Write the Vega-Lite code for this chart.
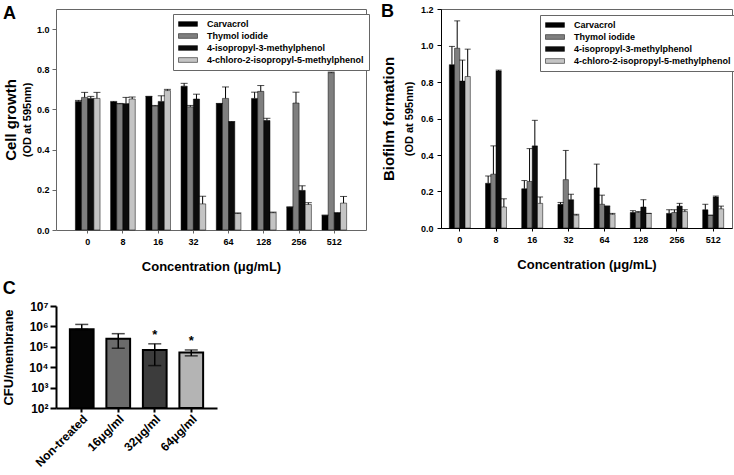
{
  "$schema": "https://vega.github.io/schema/vega-lite/v6.json",
  "padding": {"left": 2, "top": 2, "right": 0, "bottom": 0},
  "config": {
    "font": "Liberation Sans",
    "view": {"stroke": null},
    "axis": {"labelColor": "#000", "titleColor": "#000", "labelFontWeight": "bold", "titleFontWeight": "bold", "grid": false}
  },
  "datasets": {
    "a": [
      {"conc": "0", "compound": "Carvacrol", "value": 0.64, "upper": 0.645},
      {"conc": "0", "compound": "Thymol iodide", "value": 0.66, "upper": 0.685},
      {"conc": "0", "compound": "4-isopropyl-3-methylphenol", "value": 0.655, "upper": 0.665},
      {"conc": "0", "compound": "4-chloro-2-isopropyl-5-methylphenol", "value": 0.655, "upper": 0.685},
      {"conc": "8", "compound": "Carvacrol", "value": 0.637, "upper": 0.64},
      {"conc": "8", "compound": "Thymol iodide", "value": 0.628, "upper": 0.63},
      {"conc": "8", "compound": "4-isopropyl-3-methylphenol", "value": 0.629, "upper": 0.66},
      {"conc": "8", "compound": "4-chloro-2-isopropyl-5-methylphenol", "value": 0.652, "upper": 0.662},
      {"conc": "16", "compound": "Carvacrol", "value": 0.665, "upper": 0.665},
      {"conc": "16", "compound": "Thymol iodide", "value": 0.617, "upper": 0.62},
      {"conc": "16", "compound": "4-isopropyl-3-methylphenol", "value": 0.64, "upper": 0.668},
      {"conc": "16", "compound": "4-chloro-2-isopropyl-5-methylphenol", "value": 0.694, "upper": 0.70},
      {"conc": "32", "compound": "Carvacrol", "value": 0.716, "upper": 0.73},
      {"conc": "32", "compound": "Thymol iodide", "value": 0.613, "upper": 0.62},
      {"conc": "32", "compound": "4-isopropyl-3-methylphenol", "value": 0.652, "upper": 0.676},
      {"conc": "32", "compound": "4-chloro-2-isopropyl-5-methylphenol", "value": 0.13, "upper": 0.168},
      {"conc": "64", "compound": "Carvacrol", "value": 0.629, "upper": 0.63},
      {"conc": "64", "compound": "Thymol iodide", "value": 0.655, "upper": 0.712},
      {"conc": "64", "compound": "4-isopropyl-3-methylphenol", "value": 0.538, "upper": 0.54},
      {"conc": "64", "compound": "4-chloro-2-isopropyl-5-methylphenol", "value": 0.082, "upper": 0.085},
      {"conc": "128", "compound": "Carvacrol", "value": 0.655, "upper": 0.686},
      {"conc": "128", "compound": "Thymol iodide", "value": 0.69, "upper": 0.719},
      {"conc": "128", "compound": "4-isopropyl-3-methylphenol", "value": 0.545, "upper": 0.556},
      {"conc": "128", "compound": "4-chloro-2-isopropyl-5-methylphenol", "value": 0.086, "upper": 0.089},
      {"conc": "256", "compound": "Carvacrol", "value": 0.114, "upper": 0.115},
      {"conc": "256", "compound": "Thymol iodide", "value": 0.632, "upper": 0.686},
      {"conc": "256", "compound": "4-isopropyl-3-methylphenol", "value": 0.197, "upper": 0.22},
      {"conc": "256", "compound": "4-chloro-2-isopropyl-5-methylphenol", "value": 0.127, "upper": 0.136},
      {"conc": "512", "compound": "Carvacrol", "value": 0.073, "upper": 0.074},
      {"conc": "512", "compound": "Thymol iodide", "value": 0.783, "upper": 0.786},
      {"conc": "512", "compound": "4-isopropyl-3-methylphenol", "value": 0.085, "upper": 0.086},
      {"conc": "512", "compound": "4-chloro-2-isopropyl-5-methylphenol", "value": 0.134, "upper": 0.167}
    ],
    "b": [
      {"conc": "0", "compound": "Carvacrol", "value": 0.895, "upper": 0.995},
      {"conc": "0", "compound": "Thymol iodide", "value": 0.985, "upper": 1.135},
      {"conc": "0", "compound": "4-isopropyl-3-methylphenol", "value": 0.805, "upper": 0.92},
      {"conc": "0", "compound": "4-chloro-2-isopropyl-5-methylphenol", "value": 0.83, "upper": 0.98},
      {"conc": "8", "compound": "Carvacrol", "value": 0.245, "upper": 0.285},
      {"conc": "8", "compound": "Thymol iodide", "value": 0.295, "upper": 0.45},
      {"conc": "8", "compound": "4-isopropyl-3-methylphenol", "value": 0.86, "upper": 0.865},
      {"conc": "8", "compound": "4-chloro-2-isopropyl-5-methylphenol", "value": 0.115, "upper": 0.16},
      {"conc": "16", "compound": "Carvacrol", "value": 0.215, "upper": 0.26},
      {"conc": "16", "compound": "Thymol iodide", "value": 0.255, "upper": 0.435},
      {"conc": "16", "compound": "4-isopropyl-3-methylphenol", "value": 0.45, "upper": 0.59},
      {"conc": "16", "compound": "4-chloro-2-isopropyl-5-methylphenol", "value": 0.135, "upper": 0.17},
      {"conc": "32", "compound": "Carvacrol", "value": 0.13, "upper": 0.14},
      {"conc": "32", "compound": "Thymol iodide", "value": 0.265, "upper": 0.425},
      {"conc": "32", "compound": "4-isopropyl-3-methylphenol", "value": 0.155, "upper": 0.185},
      {"conc": "32", "compound": "4-chloro-2-isopropyl-5-methylphenol", "value": 0.07, "upper": 0.075},
      {"conc": "64", "compound": "Carvacrol", "value": 0.22, "upper": 0.35},
      {"conc": "64", "compound": "Thymol iodide", "value": 0.13, "upper": 0.18},
      {"conc": "64", "compound": "4-isopropyl-3-methylphenol", "value": 0.12, "upper": 0.12},
      {"conc": "64", "compound": "4-chloro-2-isopropyl-5-methylphenol", "value": 0.075, "upper": 0.08},
      {"conc": "128", "compound": "Carvacrol", "value": 0.085, "upper": 0.095},
      {"conc": "128", "compound": "Thymol iodide", "value": 0.085, "upper": 0.09},
      {"conc": "128", "compound": "4-isopropyl-3-methylphenol", "value": 0.115, "upper": 0.155},
      {"conc": "128", "compound": "4-chloro-2-isopropyl-5-methylphenol", "value": 0.08, "upper": 0.08},
      {"conc": "256", "compound": "Carvacrol", "value": 0.08, "upper": 0.1},
      {"conc": "256", "compound": "Thymol iodide", "value": 0.085, "upper": 0.1},
      {"conc": "256", "compound": "4-isopropyl-3-methylphenol", "value": 0.12, "upper": 0.135},
      {"conc": "256", "compound": "4-chloro-2-isopropyl-5-methylphenol", "value": 0.09, "upper": 0.1},
      {"conc": "512", "compound": "Carvacrol", "value": 0.1, "upper": 0.13},
      {"conc": "512", "compound": "Thymol iodide", "value": 0.07, "upper": 0.07},
      {"conc": "512", "compound": "4-isopropyl-3-methylphenol", "value": 0.17, "upper": 0.175},
      {"conc": "512", "compound": "4-chloro-2-isopropyl-5-methylphenol", "value": 0.105, "upper": 0.12}
    ],
    "c": [
      {"group": "Non-treated", "value": 720000, "lo": 720000, "hi": 1250000, "sig": ""},
      {"group": "16μg/ml", "value": 250000, "lo": 85000, "hi": 440000, "sig": ""},
      {"group": "32μg/ml", "value": 70000, "lo": 12000, "hi": 140000, "sig": "*"},
      {"group": "64μg/ml", "value": 52000, "lo": 36000, "hi": 70000, "sig": "*"}
    ]
  },
  "resolve": {"scale": {"color": "independent", "xOffset": "independent"}},
  "vconcat": [
    {
      "hconcat": [
        {
          "width": 310,
          "height": 221,
          "view": {"stroke": "#666", "strokeWidth": 1},
          "title": {"text": "A", "anchor": "start", "frame": "bounds", "fontSize": 18, "fontWeight": "bold", "baseline": "top", "offset": -14},
          "data": {"name": "a"},
          "encoding": {
            "x": {"field": "conc", "type": "nominal", "sort": ["0", "8", "16", "32", "64", "128", "256", "512"],
              "scale": {"paddingInner": 0.3, "paddingOuter": 0.55},
              "axis": {"title": "Concentration (μg/mL)", "titleFontSize": 13, "titlePadding": 14, "labelFontSize": 9, "labelAngle": 0, "labelPadding": 4, "tickSize": 3, "tickColor": "#666", "domain": false}},
            "xOffset": {"field": "compound", "type": "nominal", "sort": ["Carvacrol", "Thymol iodide", "4-isopropyl-3-methylphenol", "4-chloro-2-isopropyl-5-methylphenol"]}
          },
          "layer": [
            {
              "mark": {"type": "bar", "stroke": "#000", "strokeWidth": 0.5},
              "encoding": {
                "y": {"field": "value", "type": "quantitative", "scale": {"domain": [0, 1.1], "nice": false},
                  "axis": {"orient": "left", "title": "(OD at 595nm)", "titleFontSize": 11, "titlePadding": 4, "values": [0, 0.2, 0.4, 0.6, 0.8, 1.0], "format": ".1f", "labelFontSize": 9, "labelPadding": 3, "tickSize": 4, "tickColor": "#666", "domain": false}},
                "color": {"field": "compound", "type": "nominal",
                  "scale": {"domain": ["Carvacrol", "Thymol iodide", "4-isopropyl-3-methylphenol", "4-chloro-2-isopropyl-5-methylphenol"], "range": ["#000000", "#7f7f7f", "#0c0c0c", "#c4c4c4"]},
                  "legend": {"orient": "none", "legendX": 117, "legendY": 5, "title": null, "symbolType": "M-2,-0.5L2,-0.5L2,0.5L-2,0.5Z", "symbolSize": 90, "symbolOffset": 5, "symbolStrokeColor": "#000", "symbolStrokeWidth": 0.5, "labelFontSize": 9, "labelFontWeight": "bold", "labelColor": "#000", "labelOffset": 14, "strokeColor": "#666", "fillColor": "#fff", "padding": 5, "rowPadding": 2}}
              }
            },
            {
              "mark": {"type": "rule", "color": "#000", "strokeWidth": 1},
              "encoding": {
                "y": {"field": "value", "type": "quantitative",
                  "axis": {"orient": "left", "title": "Cell growth", "titleFontSize": 15, "titlePadding": 38, "labels": false, "ticks": false, "domain": false}},
                "y2": {"field": "upper"}
              }
            },
            {
              "mark": {"type": "tick", "color": "#000", "thickness": 1, "size": 7},
              "encoding": {
                "y": {"field": "upper", "type": "quantitative", "axis": null}
              }
            }
          ],
          "resolve": {"axis": {"y": "independent"}}
        },
        {
          "width": 291,
          "height": 219,
          "view": {"stroke": "#666", "strokeWidth": 1},
          "title": {"text": "B", "anchor": "start", "frame": "bounds", "fontSize": 18, "fontWeight": "bold", "baseline": "top", "offset": -16},
          "data": {"name": "b"},
          "encoding": {
            "x": {"field": "conc", "type": "nominal", "sort": ["0", "8", "16", "32", "64", "128", "256", "512"],
              "scale": {"paddingInner": 0.42, "paddingOuter": 0.23},
              "axis": {"title": "Concentration (μg/mL)", "titleFontSize": 13, "titlePadding": 14, "labelFontSize": 9, "labelAngle": 0, "labelPadding": 4, "tickSize": 3, "tickColor": "#000", "domainColor": "#000"}},
            "xOffset": {"field": "compound", "type": "nominal", "sort": ["Carvacrol", "Thymol iodide", "4-isopropyl-3-methylphenol", "4-chloro-2-isopropyl-5-methylphenol"]}
          },
          "layer": [
            {
              "mark": {"type": "bar", "stroke": "#000", "strokeWidth": 0.5},
              "encoding": {
                "y": {"field": "value", "type": "quantitative", "scale": {"domain": [0, 1.2], "nice": false},
                  "axis": {"orient": "left", "title": "(OD at 595nm)", "titleFontSize": 11, "titlePadding": 6, "values": [0, 0.2, 0.4, 0.6, 0.8, 1.0, 1.2], "format": ".1f", "labelFontSize": 9, "labelPadding": 4, "tickSize": 4, "tickColor": "#000", "domainColor": "#000"}},
                "color": {"field": "compound", "type": "nominal",
                  "scale": {"domain": ["Carvacrol", "Thymol iodide", "4-isopropyl-3-methylphenol", "4-chloro-2-isopropyl-5-methylphenol"], "range": ["#000000", "#7f7f7f", "#0c0c0c", "#c4c4c4"]},
                  "legend": {"orient": "none", "legendX": 99, "legendY": 6, "title": null, "symbolType": "M-2,-0.5L2,-0.5L2,0.5L-2,0.5Z", "symbolSize": 90, "symbolOffset": 5, "symbolStrokeColor": "#000", "symbolStrokeWidth": 0.5, "labelFontSize": 9, "labelFontWeight": "bold", "labelColor": "#000", "labelOffset": 14, "strokeColor": "#666", "fillColor": "#fff", "padding": 5, "rowPadding": 2}}
              }
            },
            {
              "mark": {"type": "rule", "color": "#000", "strokeWidth": 1},
              "encoding": {
                "y": {"field": "value", "type": "quantitative",
                  "axis": {"orient": "left", "title": "Biofilm formation", "titleFontSize": 15, "titlePadding": 45, "labels": false, "ticks": false, "domain": false}},
                "y2": {"field": "upper"}
              }
            },
            {
              "mark": {"type": "tick", "color": "#000", "thickness": 1, "size": 6},
              "encoding": {
                "y": {"field": "upper", "type": "quantitative", "axis": null}
              }
            }
          ],
          "resolve": {"axis": {"y": "independent"}}
        }
      ],
      "spacing": 10,
      "resolve": {"scale": {"color": "independent", "xOffset": "independent"}}
    },
    {
      "width": 161,
      "height": 102,
      "title": {"text": "C", "anchor": "start", "frame": "bounds", "fontSize": 18, "fontWeight": "bold", "offset": 2},
      "data": {"name": "c"},
      "encoding": {
        "x": {"field": "group", "type": "nominal", "sort": ["Non-treated", "16μg/ml", "32μg/ml", "64μg/ml"],
          "scale": {"paddingInner": 0.35, "paddingOuter": 0.38},
          "axis": {"title": null, "labelAngle": -45, "labelFontSize": 12, "labelPadding": 1, "tickSize": 4, "tickWidth": 2, "tickColor": "#000", "domainWidth": 2, "domainColor": "#000"}}
      },
      "layer": [
        {
          "mark": {"type": "bar", "stroke": "#000", "strokeWidth": 2},
          "encoding": {
            "y": {"field": "value", "type": "quantitative", "scale": {"type": "log", "domain": [100, 10000000], "nice": false},
              "axis": {"title": "CFU/membrane", "titleFontSize": 13, "titlePadding": 13, "values": [100, 1000, 10000, 100000, 1000000, 10000000],
                "labelExpr": "'10' + ['⁰','¹','²','³','⁴','⁵','⁶','⁷'][round(log(datum.value)/LN10)]",
                "labelFontSize": 12, "labelPadding": 2, "tickSize": 6, "tickWidth": 2, "tickColor": "#000", "domainWidth": 2, "domainColor": "#000"}},
            "y2": {"datum": 100},
            "color": {"field": "group", "type": "nominal", "scale": {"domain": ["Non-treated", "16μg/ml", "32μg/ml", "64μg/ml"], "range": ["#050505", "#6b6b6b", "#3c3c3c", "#b4b4b4"]}, "legend": null}
          }
        },
        {
          "mark": {"type": "rule", "color": "#000", "strokeWidth": 1.5},
          "encoding": {"y": {"field": "lo", "type": "quantitative"}, "y2": {"field": "hi"}}
        },
        {
          "mark": {"type": "tick", "color": "#000", "thickness": 1.5, "size": 13},
          "encoding": {"y": {"field": "hi", "type": "quantitative"}}
        },
        {
          "mark": {"type": "tick", "color": "#000", "thickness": 1.5, "size": 13},
          "encoding": {"y": {"field": "lo", "type": "quantitative"}}
        },
        {
          "mark": {"type": "text", "fontSize": 13, "fontWeight": "bold", "baseline": "bottom", "dy": -2, "color": "#000"},
          "encoding": {"y": {"field": "hi", "type": "quantitative"}, "text": {"field": "sig"}}
        }
      ]
    }
  ],
  "spacing": 6
}
